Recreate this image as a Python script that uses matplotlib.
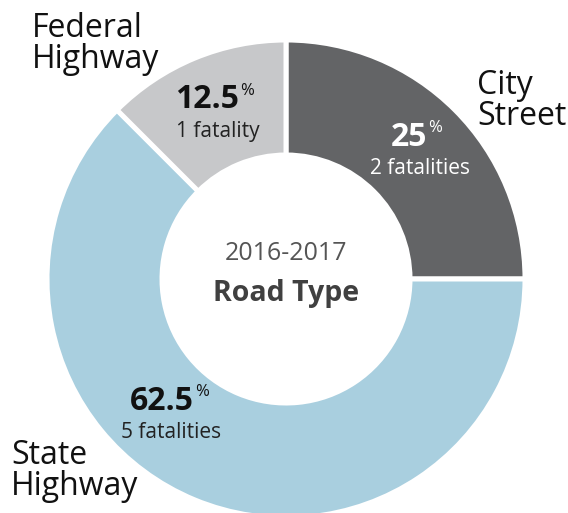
import matplotlib
matplotlib.use("Agg")
import matplotlib.pyplot as plt

# data
road_types = ["City\nStreet", "State\nHighway", "Federal\nHighway"]
shares = [25, 62.5, 12.5]
fatalities = [2, 5, 1]
colors = ["#636466", "#a9cfdf", "#c7c8ca"]
period = "2016-2017"
title = "Road Type"

plt.rcParams['font.family'] = ['Open Sans', 'DejaVu Sans']

W, H = 568, 513
fig = plt.figure(figsize=(W / 100, H / 100), dpi=100)
ax = fig.add_axes([0, 0, 1, 1])
ax.axis('off')

cx, cy = 286, H - 279
R, r_in = 239, 124

ax.pie(shares, colors=colors, startangle=90, counterclock=False,
       radius=R, center=(cx, cy),
       wedgeprops=dict(width=R - r_in, edgecolor='white', linewidth=3.6))
ax.set_xlim(0, W)
ax.set_ylim(0, H)
ax.set_aspect('equal')

# label layout (pixel coords, y measured from top)
name_pos = [(477, 101), (11, 471), (32, 44)]
pct_pos = [(427, 137), (194, 401), (239, 100)]
cnt_pos = [(420, 168), (171, 432), (218, 131)]
txt_col = ['white', '#111111', '#111111']
cnt_col = ['white', '#222222', '#222222']

for i, name in enumerate(road_types):
    x, y = name_pos[i]
    ax.text(x, H - y, name, ha='left', va='center', fontsize=23,
            color='#111111', linespacing=0.95)
    px, py = pct_pos[i]
    ax.text(px, H - py, f"{shares[i]:g}", ha='right', va='center',
            fontsize=23, fontweight='bold', color=txt_col[i])
    ax.text(px + 1, H - py + 9, "%", ha='left', va='center',
            fontsize=12, color=txt_col[i])
    qx, qy = cnt_pos[i]
    word = "fatality" if fatalities[i] == 1 else "fatalities"
    ax.text(qx, H - qy, f"{fatalities[i]} {word}", ha='center', va='center',
            fontsize=15, color=cnt_col[i])

ax.text(cx, H - 254, period, ha='center', va='center', fontsize=18,
        color='#555555')
ax.text(cx, H - 293, title, ha='center', va='center', fontsize=20.5,
        fontweight='bold', color='#404040')

fig.savefig("out.png", dpi=100)
